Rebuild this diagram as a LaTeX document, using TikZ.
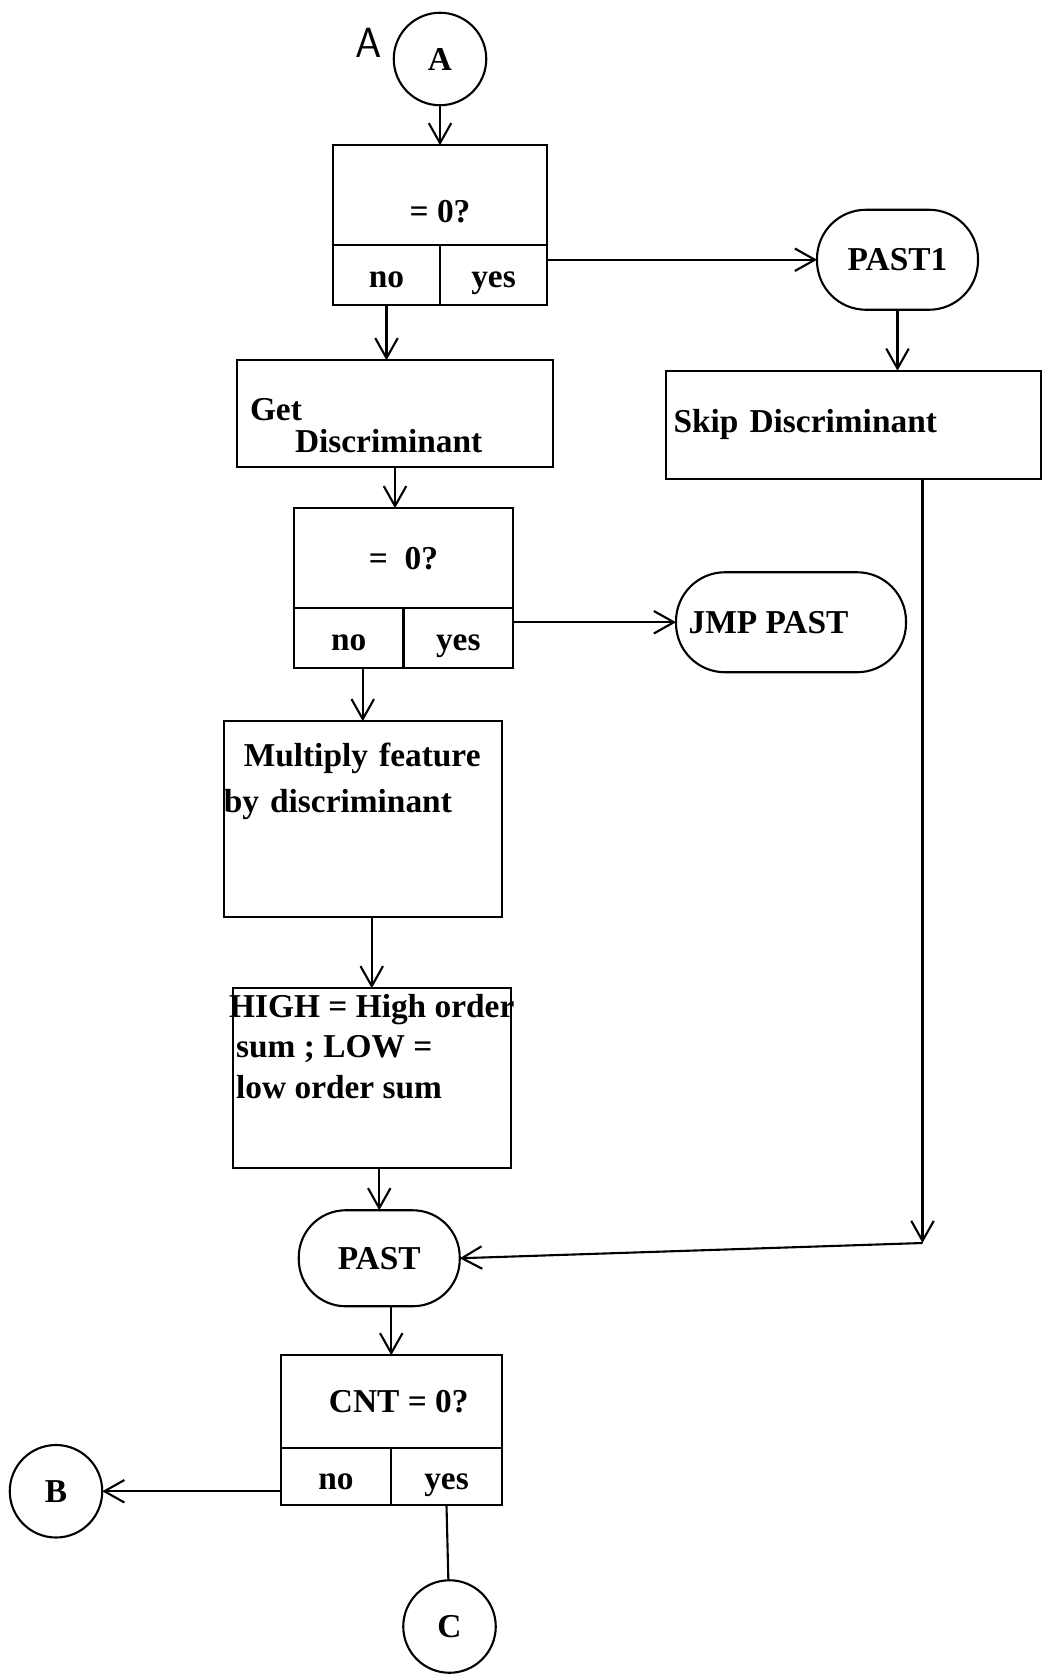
\documentclass[tikz,border=0pt]{standalone}
\usepackage{fontspec}
\setmainfont{Liberation Serif}
\usetikzlibrary{arrows.meta, positioning}

\begin{document}
\begin{tikzpicture}[
    node distance=1cm,
    >={Straight Barb[length=4mm, width=4.5mm]},
    chart/.style={font=\fontsize{19}{23}\selectfont\bfseries, outer sep=0pt},
    connector/.style={
        circle, draw=black, line width=1.2pt, minimum size=1.85cm,
        inner sep=0pt, chart
    },
    terminal/.style={
        rectangle, rounded corners=0.98cm, draw=black, line width=1.2pt,
        minimum width=#1, minimum height=2cm, chart
    },
    terminal/.default={3.2cm},
    process/.style={
        rectangle, draw=black, line width=1.2pt, inner sep=4pt,
        align=left, chart
    },
    question/.style={
        rectangle, draw=black, line width=1.2pt,
        minimum width=#1, minimum height=2cm, align=center, chart
    },
    answer/.style={
        rectangle, draw=black, line width=1.2pt, text height=0.6cm, text depth=0.1cm,
        minimum width=#1, minimum height=1.2cm, chart
    },
    arrow/.style={
        ->, line width=1.2pt, black
    },
    wire/.style={
        line width=1.2pt, black
    }
]
\useasboundingbox (0,0) rectangle (20.88,-33.52);

% ── Entry connector ──
\node[connector] (entryA) at (8.8,-1.18) {A};
\node[font=\sffamily\fontsize{24}{24}\selectfont] (noteA) at (7.38,-0.86) {A};

% ── First test ──
\node[question=4.28cm, text height=1.1cm, below=0.8cm of entryA] (test1) {= 0?};
\node[answer=2.14cm, below right=0pt and 0pt of test1.south west] (test1no) {no};
\node[answer=2.14cm, below left=0pt and 0pt of test1.south east] (test1yes) {yes};

% ── Right branch ──
\node[terminal=3.22cm, right=5.4cm of test1yes, yshift=0.31cm] (past1) {PAST1};
\node[process, minimum width=7.5cm, minimum height=2.16cm, text width=7.2cm,
      below=1.22cm of past1, xshift=-0.88cm] (skipdisc) {Skip Discriminant};

% ── Get discriminant ──
\node[process, minimum width=6.32cm, minimum height=2.14cm, text width=5.8cm,
      below=1.1cm of test1no, xshift=0.17cm] (getdisc)
      {\rule{0pt}{0.92cm}Get\\[-5pt]\hspace*{0.9cm}Discriminant};

% ── Second test ──
\node[question=4.38cm, below=0.82cm of getdisc, xshift=0.17cm] (test2) {=\ \ 0?};
\node[answer=2.19cm, below right=0pt and 0pt of test2.south west] (test2no) {no};
\node[answer=2.19cm, below left=0pt and 0pt of test2.south east] (test2yes) {yes};
\node[terminal=4.6cm, right=3.26cm of test2yes, yshift=0.32cm] (jmppast) {JMP PAST\hspace*{0.9cm}};

% ── Multiply ──
\node[process, minimum width=5.56cm, minimum height=3.92cm, text width=5.56cm, inner xsep=0pt,
      below=1.06cm of test2no, xshift=0.28cm] (multiply)
      {\hspace*{0.4cm}Multiply feature\\[3pt]by discriminant\\[0.84cm]\mbox{}};

% ── High / low sums ──
\node[process, minimum width=5.56cm, minimum height=3.6cm, inner xsep=-0.08cm, inner ysep=0pt,
      below=1.42cm of multiply, xshift=0.18cm] (highlow)
      {HIGH = High order\\\hspace*{0.14cm}sum ; LOW =\\\hspace*{0.14cm}low order sum\\[0.47cm]\mbox{}};

% ── Join ──
\node[terminal=3.22cm, minimum height=1.92cm, rounded corners=0.94cm,
      below=0.84cm of highlow, xshift=0.15cm] (past) {PAST};
\coordinate (turn) at (18.45,-24.86);

% ── Count test ──
\node[question=4.42cm, minimum height=1.86cm, below=0.98cm of past, xshift=0.24cm] (test3) {\hspace*{0.3cm}CNT = 0?};
\node[answer=2.21cm, minimum height=1.14cm, below right=0pt and 0pt of test3.south west] (test3no) {no};
\node[answer=2.21cm, minimum height=1.14cm, below left=0pt and 0pt of test3.south east] (test3yes) {yes};

% ── Exit connectors ──
\node[connector, left=3.57cm of test3no, yshift=-0.29cm] (exitB) {B};
\node[connector, below=1.5cm of test3yes, xshift=0.06cm] (exitC) {C};

% ── Arrows ──
\draw[arrow] (entryA) -- (test1);
\draw[arrow] (test1yes.east |- past1.west) -- (past1.west);
\draw[arrow] (past1.south) -- (past1.south |- skipdisc.north);
\draw[arrow] (test1no.south) -- (test1no.south |- getdisc.north);
\draw[arrow] (getdisc.south) -- (getdisc.south |- test2.north);
\draw[arrow] (test2yes.east |- jmppast.west) -- (jmppast.west);
\draw[arrow] (multiply.north |- test2no.south) -- (multiply.north);
\draw[arrow] (multiply.south -| highlow.north) -- (highlow.north);
\draw[arrow] (highlow.south -| past.north) -- (past.north);
\draw[arrow] (skipdisc.south -| turn) -- (turn);
\draw[arrow] (turn) -- (past.east);
\draw[arrow] (past.south -| test3.north) -- (test3.north);
\draw[arrow] (test3no.west |- exitB.east) -- (exitB.east);
\draw[wire] (test3yes.south) -- (exitC);

\end{tikzpicture}
\end{document}
